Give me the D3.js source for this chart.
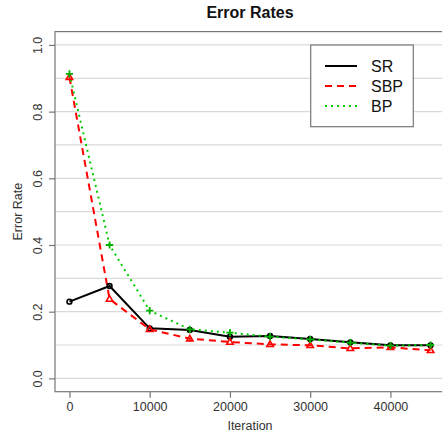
<!DOCTYPE html>
<html>
<head>
<meta charset="utf-8">
<script src="https://cdn.jsdelivr.net/npm/d3@7"></script>
<style>
  html, body { margin: 0; padding: 0; background: #fff; }
  svg { display: block; font-family: "Liberation Sans", Arial, Helvetica, sans-serif; }
</style>
</head>
<body>
<svg id="chart" width="442" height="436"></svg>
<script>
// Error rate per training iteration for three methods
const iterations = [0, 5000, 10000, 15000, 20000, 25000, 30000, 35000, 40000, 45000];
const srRates  = [0.230, 0.277, 0.150, 0.145, 0.125, 0.127, 0.118, 0.108, 0.099, 0.099];
const sbpRates = [0.903, 0.238, 0.147, 0.119, 0.109, 0.102, 0.099, 0.090, 0.093, 0.084];
const bpRates  = [0.913, 0.400, 0.203, 0.147, 0.137, 0.125, 0.117, 0.107, 0.098, 0.100];
const xTicks = [0, 10000, 20000, 30000, 40000];
const yTicks = [0.0, 0.2, 0.4, 0.6, 0.8, 1.0];
const gridValues = [0.0, 0.1, 0.2, 0.3, 0.4, 0.5, 0.6, 0.7, 0.8, 0.9, 1.0];
const seriesNames = ["SR", "SBP", "BP"];

const series = [
  { name: seriesNames[0], values: srRates,  color: "#000000", dash: null,  marker: "circle" },
  { name: seriesNames[1], values: sbpRates, color: "#ff0000", dash: "7,5", marker: "triangle" },
  { name: seriesNames[2], values: bpRates,  color: "#00cd00", dash: "2,4", marker: "plus" }
];

const svg = d3.select("#chart");
const plotLeft = 55, plotRight = 445, plotTop = 31.6, plotBottom = 391.7;

// axis ranges padded by 4% on each side
const xs = d3.scaleLinear().domain([-1800, 46800]).range([plotLeft, plotRight]);
const ys = d3.scaleLinear().domain([-0.04, 1.04]).range([plotBottom, plotTop]);

const axisColor = "#777";
const textColor = "#333";

// horizontal grid
svg.append("g").selectAll("line").data(gridValues).join("line")
  .attr("x1", plotLeft).attr("x2", plotRight)
  .attr("y1", d => ys(d)).attr("y2", d => ys(d))
  .attr("stroke", "#d9d9d9").attr("stroke-width", 1.2);

// frame
svg.append("rect")
  .attr("x", plotLeft).attr("y", plotTop)
  .attr("width", plotRight - plotLeft).attr("height", plotBottom - plotTop)
  .attr("fill", "none").attr("stroke", axisColor).attr("stroke-width", 1.2);

// x axis
const xAxis = svg.append("g")
  .attr("transform", `translate(0,${plotBottom})`)
  .call(d3.axisBottom(xs).tickValues(xTicks).tickFormat(d3.format("d")).tickSize(6).tickPadding(4));
xAxis.select(".domain").remove();
xAxis.selectAll("line").attr("stroke", axisColor).attr("stroke-width", 1.2);
xAxis.selectAll("text").attr("font-size", 12.5).attr("fill", textColor)
  .attr("font-family", "Liberation Sans, Arial, sans-serif");

// y axis, labels rotated like the classic plot style
const yAxis = svg.append("g")
  .attr("transform", `translate(${plotLeft},0)`)
  .call(d3.axisLeft(ys).tickValues(yTicks).tickFormat(d3.format(".1f")).tickSize(6));
yAxis.select(".domain").remove();
yAxis.selectAll("line").attr("stroke", axisColor).attr("stroke-width", 1.2);
yAxis.selectAll("text")
  .attr("font-size", 12.5).attr("fill", textColor)
  .attr("font-family", "Liberation Sans, Arial, sans-serif")
  .attr("x", null).attr("dy", null)
  .attr("text-anchor", "middle")
  .attr("transform", "translate(-13,0) rotate(-90)");

// titles
svg.append("text")
  .attr("x", (plotLeft + plotRight) / 2).attr("y", 18)
  .attr("text-anchor", "middle")
  .attr("font-size", 16).attr("font-weight", "bold").attr("fill", "#111")
  .text("Error Rates");

svg.append("text")
  .attr("x", (plotLeft + plotRight) / 2).attr("y", 430)
  .attr("text-anchor", "middle")
  .attr("font-size", 12.5).attr("fill", textColor)
  .text("Iteration");

svg.append("text")
  .attr("transform", `translate(22,${(plotTop + plotBottom) / 2}) rotate(-90)`)
  .attr("text-anchor", "middle")
  .attr("font-size", 12.5).attr("fill", textColor)
  .text("Error Rate");

// series lines
const line = d3.line().x((d, i) => xs(iterations[i])).y(d => ys(d));
const plot = svg.append("g");

series.forEach(s => {
  plot.append("path")
    .datum(s.values)
    .attr("d", line)
    .attr("fill", "none")
    .attr("stroke", s.color)
    .attr("stroke-width", 2)
    .attr("stroke-dasharray", s.dash);
});

// point markers
function drawMarker(g, type, cx, cy, color) {
  if (type === "circle") {
    g.append("circle").attr("cx", cx).attr("cy", cy).attr("r", 2.4)
      .attr("fill", "none").attr("stroke", color).attr("stroke-width", 1.6);
  } else if (type === "triangle") {
    const r = 3.4;
    g.append("path")
      .attr("d", `M${cx},${cy - r} L${cx + r * 0.95},${cy + r * 0.65} L${cx - r * 0.95},${cy + r * 0.65} Z`)
      .attr("fill", "none").attr("stroke", color).attr("stroke-width", 1.6);
  } else {
    const r = 3.6;
    g.append("path")
      .attr("d", `M${cx - r},${cy} H${cx + r} M${cx},${cy - r} V${cy + r}`)
      .attr("stroke", color).attr("stroke-width", 1.8);
  }
}

series.forEach(s => {
  const g = plot.append("g");
  s.values.forEach((v, i) => drawMarker(g, s.marker, xs(iterations[i]), ys(v), s.marker === "plus" ? "#00b000" : s.color));
});

// legend
const lg = svg.append("g");
lg.append("rect")
  .attr("x", 310.7).attr("y", 45).attr("width", 102.6).attr("height", 81.7)
  .attr("fill", "#fff").attr("stroke", axisColor).attr("stroke-width", 1.2);
series.forEach((s, i) => {
  const y = 66 + i * 20;
  lg.append("line")
    .attr("x1", 325).attr("x2", 357).attr("y1", y).attr("y2", y)
    .attr("stroke", s.color).attr("stroke-width", 2)
    .attr("stroke-dasharray", s.dash);
  lg.append("text")
    .attr("x", 371).attr("y", y + 5.5)
    .attr("font-size", 16).attr("fill", "#111")
    .text(s.name);
});
</script>
</body>
</html>
